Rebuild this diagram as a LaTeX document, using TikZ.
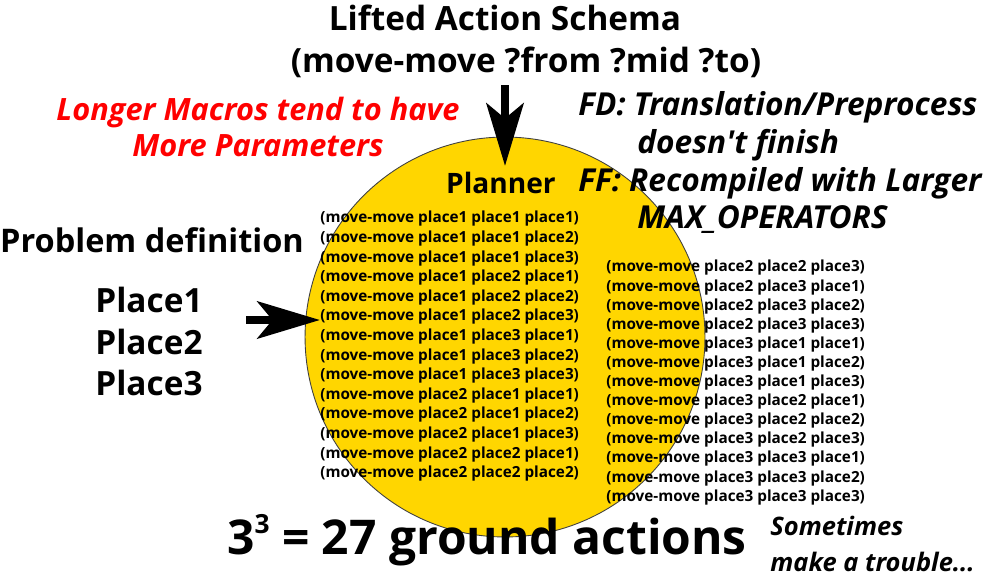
\documentclass[tikz,border=0pt]{standalone}
\usepackage{fontspec}
\setmainfont{Open Sans}
\usepackage{tikz}
\usetikzlibrary{arrows.meta,positioning}
\definecolor{plannergold}{RGB}{255,214,0}
\definecolor{macrored}{RGB}{255,0,0}

\begin{document}
\begin{tikzpicture}[x=0.02cm,y=-0.02cm,
  ground/.style={font=\fontsize{8.7}{10}\selectfont\bfseries, anchor=west, inner sep=0pt},
  note/.style={font=\fontsize{18}{20}\selectfont\bfseries\itshape, anchor=west, inner sep=0pt},
  bigarrow/.style={line width=5pt, -{Stealth[length=1.25cm,width=0.74cm,inset=0.3cm]}}
]
  \useasboundingbox (0,0) rectangle (1000,583);

  \node[circle, fill=plannergold, draw=black!75, line width=0.5pt,
        minimum size=8cm, inner sep=0pt] (disc) at (505,337) {};

  \node[font=\fontsize{19}{20}\selectfont\bfseries] (lifted) at (505,18) {Lifted Action Schema};
  \node[font=\fontsize{19}{20}\selectfont\bfseries] (schema) at (526,62) {(move-move ?from ?mid ?to)};
  \node[font=\fontsize{17.5}{21}\selectfont\bfseries\itshape, text=macrored, align=center]
        (macro) at (258,127) {Longer Macros tend to have\\More Parameters};

  \node[note] (fd) at (578,107) {FD: Translation/Preprocess};
  \node[note] (fd2) at (637,145) {doesn\textquotesingle t finish};
  \node[note] (ff) at (578,183) {FF: Recompiled with Larger};
  \node[note] (ff2) at (637,220) {MAX\_OPERATORS};

  \node[font=\fontsize{16}{18}\selectfont\bfseries] (planner) at (501,183) {Planner};
  \node[font=\fontsize{18.5}{20}\selectfont\bfseries] (problem) at (152,240) {Problem definition};
  \node[font=\fontsize{19}{20}\selectfont\bfseries, anchor=west, inner sep=0pt] (place1) at (95,300) {Place1};
  \node[font=\fontsize{19}{20}\selectfont\bfseries, anchor=west, inner sep=0pt] (place2) at (95,342) {Place2};
  \node[font=\fontsize{19}{20}\selectfont\bfseries, anchor=west, inner sep=0pt] (place3) at (95,383) {Place3};

  % ground actions, left column
  \node[ground] (l1) at (320,219.0) {(move-move place1 place1 place1)};
  \node[ground] (l2) at (320,238.6) {(move-move place1 place1 place2)};
  \node[ground] (l3) at (320,258.2) {(move-move place1 place1 place3)};
  \node[ground] (l4) at (320,277.8) {(move-move place1 place2 place1)};
  \node[ground] (l5) at (320,297.4) {(move-move place1 place2 place2)};
  \node[ground] (l6) at (320,317.0) {(move-move place1 place2 place3)};
  \node[ground] (l7) at (320,336.6) {(move-move place1 place3 place1)};
  \node[ground] (l8) at (320,356.2) {(move-move place1 place3 place2)};
  \node[ground] (l9) at (320,375.8) {(move-move place1 place3 place3)};
  \node[ground] (l10) at (320,395.4) {(move-move place2 place1 place1)};
  \node[ground] (l11) at (320,415.0) {(move-move place2 place1 place2)};
  \node[ground] (l12) at (320,434.6) {(move-move place2 place1 place3)};
  \node[ground] (l13) at (320,454.2) {(move-move place2 place2 place1)};
  \node[ground] (l14) at (320,473.8) {(move-move place2 place2 place2)};

  % ground actions, right column
  \node[ground] (r1) at (606,268.0) {(move-move place2 place2 place3)};
  \node[ground] (r2) at (606,287.1) {(move-move place2 place3 place1)};
  \node[ground] (r3) at (606,306.2) {(move-move place2 place3 place2)};
  \node[ground] (r4) at (606,325.3) {(move-move place2 place3 place3)};
  \node[ground] (r5) at (606,344.4) {(move-move place3 place1 place1)};
  \node[ground] (r6) at (606,363.5) {(move-move place3 place1 place2)};
  \node[ground] (r7) at (606,382.6) {(move-move place3 place1 place3)};
  \node[ground] (r8) at (606,401.7) {(move-move place3 place2 place1)};
  \node[ground] (r9) at (606,420.8) {(move-move place3 place2 place2)};
  \node[ground] (r10) at (606,439.9) {(move-move place3 place2 place3)};
  \node[ground] (r11) at (606,459.0) {(move-move place3 place3 place1)};
  \node[ground] (r12) at (606,478.1) {(move-move place3 place3 place2)};
  \node[ground] (r13) at (606,497.2) {(move-move place3 place3 place3)};

  \node[font=\fontsize{27.3}{30}\selectfont\bfseries] (count) at (487,540)
        {3\raisebox{0.45em}{\fontsize{15}{15}\selectfont 3} = 27 ground actions};
  \node[note, font=\fontsize{14.5}{20}\selectfont\bfseries\itshape, align=left]
        (trouble) at (770,544) {Sometimes\\make a trouble...};

  \coordinate (schemaout) at (505,85);
  \coordinate (probout) at (246,320);
  \draw[bigarrow] (schemaout) -- (schemaout |- planner.north);
  \draw[bigarrow] (probout) -- (probout -| l6.west);
\end{tikzpicture}
\end{document}
